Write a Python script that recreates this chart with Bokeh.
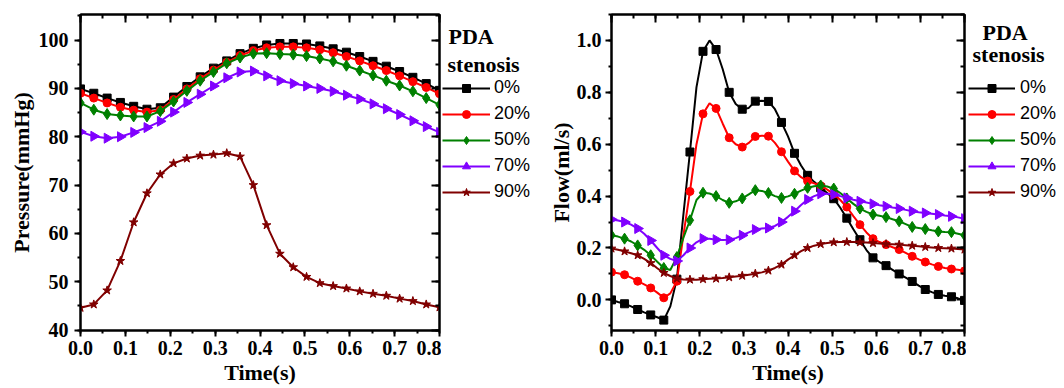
from bokeh.plotting import figure
from bokeh.models import (LinearAxis, Range1d, Legend, LegendItem, Label,
                          SingleIntervalTicker, NumeralTickFormatter, CustomJSTickFormatter)
from bokeh.layouts import row
from bokeh.embed import file_html
from bokeh.resources import INLINE
import math

# ---------------- data ----------------
series_labels = ["0%", "20%", "50%", "70%", "90%"]
series_colors = ["#000000", "#FF0000", "#008000", "#8000FF", "#800000"]
series_markers = ["square", "circle", "diamond", "triangle", "star"]
legend_title = ["PDA", "stenosis"]

# pressure panel (markers at every sample)
time_p = [0.0, 0.0296, 0.0593, 0.0889, 0.1185, 0.1481, 0.1778, 0.2074, 0.2370,
          0.2667, 0.2963, 0.3259, 0.3556, 0.3852, 0.4148, 0.4444, 0.4741, 0.5037,
          0.5333, 0.5630, 0.5926, 0.6222, 0.6519, 0.6815, 0.7111, 0.7407, 0.7704, 0.8]
pressure_0 = [89.9, 89.0, 88.0, 87.1, 86.3, 85.7, 86.0, 88.2, 90.4, 92.4, 94.2, 95.7, 97.2, 98.3,
              99.0, 99.3, 99.3, 99.2, 98.8, 98.2, 97.5, 96.6, 95.6, 94.6, 93.5, 92.3, 91.0, 89.6]
pressure_20 = [89.0, 88.0, 87.0, 86.1, 85.5, 85.1, 85.5, 87.7, 89.9, 92.0, 93.8, 95.4, 96.8, 97.8,
               98.4, 98.6, 98.6, 98.4, 98.0, 97.4, 96.6, 95.7, 94.7, 93.7, 92.6, 91.4, 90.2, 88.9]
pressure_50 = [87.0, 85.6, 84.7, 84.4, 84.2, 84.2, 85.3, 87.3, 89.5, 91.6, 93.4, 95.2, 96.4, 97.2,
               97.3, 97.1, 97.0, 96.7, 96.2, 95.6, 94.7, 93.7, 92.7, 91.6, 90.6, 89.4, 88.0, 86.6]
pressure_70 = [81.0, 80.1, 79.7, 80.0, 80.9, 81.9, 83.2, 85.1, 87.1, 88.8, 90.5, 92.2, 93.4, 93.6,
               92.6, 91.6, 91.0, 90.5, 90.0, 89.4, 88.6, 87.8, 86.8, 85.8, 84.6, 83.3, 82.1, 80.9]
pressure_90 = [44.6, 45.3, 48.2, 54.3, 62.3, 68.3, 72.2, 74.5, 75.5, 76.1, 76.3, 76.6, 75.9, 70.0,
               61.7, 55.8, 53.0, 51.0, 49.7, 49.1, 48.6, 48.0, 47.5, 47.1, 46.5, 46.0, 45.3, 44.7]

# flow panel (markers at every second sample)
time_f = [0.0, 0.0148, 0.0296, 0.0444, 0.0593, 0.0741, 0.0889, 0.1037, 0.1185, 0.1333,
          0.1481, 0.1630, 0.1778, 0.1926, 0.2074, 0.2222, 0.2370, 0.2519, 0.2667, 0.2815,
          0.2963, 0.3111, 0.3259, 0.3407, 0.3556, 0.3704, 0.3852, 0.4000, 0.4148, 0.4296,
          0.4444, 0.4593, 0.4741, 0.4889, 0.5037, 0.5185, 0.5333, 0.5481, 0.5630, 0.5778,
          0.5926, 0.6074, 0.6222, 0.6370, 0.6519, 0.6667, 0.6815, 0.6963, 0.7111, 0.7259,
          0.7407, 0.7556, 0.7704, 0.7852, 0.8]
flow_0 = [0.000, -0.008, -0.015, -0.025, -0.037, -0.048, -0.058, -0.067, -0.078, -0.025,
          0.080, 0.330, 0.570, 0.820, 0.958, 1.000, 0.965, 0.890, 0.800, 0.755,
          0.735, 0.740, 0.766, 0.768, 0.765, 0.735, 0.684, 0.630, 0.565, 0.518,
          0.480, 0.455, 0.432, 0.412, 0.390, 0.355, 0.315, 0.272, 0.232, 0.192,
          0.162, 0.146, 0.132, 0.116, 0.100, 0.086, 0.071, 0.055, 0.040, 0.030,
          0.021, 0.016, 0.012, 0.006, -0.002]
flow_20 = [0.107, 0.103, 0.097, 0.086, 0.072, 0.060, 0.046, 0.028, 0.008, 0.025,
           0.072, 0.250, 0.418, 0.600, 0.717, 0.758, 0.738, 0.680, 0.625, 0.600,
           0.589, 0.605, 0.630, 0.633, 0.631, 0.605, 0.571, 0.533, 0.497, 0.473,
           0.458, 0.449, 0.440, 0.425, 0.408, 0.385, 0.358, 0.323, 0.290, 0.260,
           0.236, 0.223, 0.213, 0.203, 0.194, 0.181, 0.168, 0.156, 0.146, 0.137,
           0.129, 0.123, 0.119, 0.116, 0.112]
flow_50 = [0.249, 0.244, 0.236, 0.225, 0.210, 0.193, 0.172, 0.147, 0.123, 0.115,
           0.165, 0.240, 0.307, 0.385, 0.413, 0.410, 0.400, 0.385, 0.374, 0.380,
           0.391, 0.407, 0.423, 0.420, 0.412, 0.400, 0.393, 0.399, 0.409, 0.421,
           0.432, 0.438, 0.441, 0.437, 0.429, 0.412, 0.391, 0.370, 0.352, 0.339,
           0.329, 0.324, 0.319, 0.311, 0.303, 0.292, 0.281, 0.277, 0.273, 0.268,
           0.264, 0.262, 0.261, 0.255, 0.249]
flow_70 = [0.310, 0.306, 0.300, 0.290, 0.275, 0.255, 0.229, 0.200, 0.172, 0.158,
           0.150, 0.172, 0.200, 0.222, 0.236, 0.236, 0.232, 0.231, 0.232, 0.238,
           0.249, 0.260, 0.271, 0.275, 0.277, 0.285, 0.300, 0.320, 0.342, 0.366,
           0.387, 0.400, 0.409, 0.409, 0.406, 0.400, 0.393, 0.386, 0.380, 0.375,
           0.370, 0.365, 0.361, 0.356, 0.352, 0.347, 0.342, 0.338, 0.335, 0.332,
           0.329, 0.325, 0.322, 0.318, 0.313]
flow_90 = [0.198, 0.193, 0.187, 0.180, 0.172, 0.158, 0.142, 0.122, 0.104, 0.092,
           0.082, 0.079, 0.078, 0.078, 0.080, 0.081, 0.082, 0.084, 0.087, 0.090,
           0.093, 0.097, 0.101, 0.106, 0.113, 0.123, 0.136, 0.155, 0.172, 0.188,
           0.200, 0.209, 0.215, 0.219, 0.222, 0.223, 0.223, 0.223, 0.222, 0.221,
           0.219, 0.217, 0.215, 0.214, 0.213, 0.211, 0.209, 0.207, 0.204, 0.202,
           0.200, 0.199, 0.198, 0.196, 0.194]

pressure_series = [pressure_0, pressure_20, pressure_50, pressure_70, pressure_90]
flow_series = [flow_0, flow_20, flow_50, flow_70, flow_90]

marker_sizes = {"square": 8, "circle": 8, "diamond": 11, "triangle": 10, "star": 9}
marker_angles = {"triangle": -math.pi / 2}

SERIF = "Liberation Serif"
SANS = "Liberation Sans"
H = 388
TOP = 14        # space above the plot frames
BOTTOM = 58     # space below the plot frames


def style_axis(ax, main=True):
    ax.axis_line_width = 2
    ax.axis_line_color = "black"
    ax.major_tick_line_width = 2
    ax.minor_tick_line_width = 2
    ax.major_tick_line_color = "black"
    ax.minor_tick_line_color = "black"
    if main:
        ax.major_tick_out = 6
        ax.major_tick_in = 0
        ax.minor_tick_out = 3
        ax.minor_tick_in = 0
        ax.major_label_text_font = SERIF
        ax.major_label_text_font_style = "bold"
        ax.major_label_text_font_size = "20px"
        ax.major_label_text_color = "black"
        ax.axis_label_text_font = SERIF
        ax.axis_label_text_font_style = "bold"
        ax.axis_label_text_font_size = "22px"
        ax.axis_label_text_color = "black"
    else:
        ax.major_tick_out = 0
        ax.major_tick_in = 8
        ax.minor_tick_out = 0
        ax.minor_tick_in = 4
        ax.formatter = CustomJSTickFormatter(code="return '';")
        ax.major_label_text_font_size = "1px"
        ax.major_label_standoff = 0


def make_panel(width, border_left, y_range, y_interval, y_fmt, y_label,
               y_std, y_lab_std, times, series, step):
    p = figure(width=width, height=H, x_range=Range1d(0, 0.8), y_range=y_range,
               output_backend="svg", toolbar_location=None,
               min_border_left=border_left, min_border_right=2,
               min_border_top=TOP, min_border_bottom=BOTTOM)
    p.grid.visible = False
    p.outline_line_color = "black"
    p.outline_line_width = 2

    p.xaxis.ticker = SingleIntervalTicker(interval=0.1, num_minor_ticks=2)
    p.yaxis.ticker = SingleIntervalTicker(interval=y_interval, num_minor_ticks=2)
    p.xaxis.formatter = NumeralTickFormatter(format="0.0")
    p.yaxis.formatter = NumeralTickFormatter(format=y_fmt)
    p.xaxis.axis_label = "Time(s)"
    p.yaxis.axis_label = y_label
    p.xaxis.major_label_standoff = 4
    p.xaxis.axis_label_standoff = 2
    p.yaxis.major_label_standoff = y_std
    p.yaxis.axis_label_standoff = y_lab_std
    style_axis(p.xaxis[0])
    style_axis(p.yaxis[0])

    top = LinearAxis(ticker=SingleIntervalTicker(interval=0.1, num_minor_ticks=2))
    style_axis(top, main=False)
    p.add_layout(top, "above")
    rgt = LinearAxis(ticker=SingleIntervalTicker(interval=y_interval, num_minor_ticks=2))
    style_axis(rgt, main=False)
    p.add_layout(rgt, "right")

    for col, mk, vals in zip(series_colors, series_markers, series):
        p.line(times, vals, line_color=col, line_width=2)
        p.scatter(times[::step], vals[::step], marker=mk, size=marker_sizes[mk],
                  fill_color=col, line_color=col, angle=marker_angles.get(mk, 0.0))
    return p


def make_legend(width, leg_x, leg_y, glyph_w, standoff, title_spec, times, series):
    # frame of this helper figure spans the same rows as the plot frames;
    # its data units equal pixels, measured from the bottom of the page
    q = figure(width=width, height=H, x_range=Range1d(0, width),
               y_range=Range1d(BOTTOM, H - TOP),
               output_backend="svg", toolbar_location=None,
               min_border_left=0, min_border_right=0,
               min_border_top=TOP, min_border_bottom=BOTTOM)
    q.axis.visible = False
    q.grid.visible = False
    q.outline_line_color = None
    # the legend samples come from the real series, drawn on a range kept out of view
    q.extra_x_ranges = {"offstage": Range1d(10, 11)}
    items = []
    for lab, col, mk, vals in zip(series_labels, series_colors, series_markers, series):
        lr = q.line(times, vals, line_color=col, line_width=2, x_range_name="offstage")
        sr = q.scatter(times, vals, marker=mk, size=marker_sizes[mk], fill_color=col,
                       line_color=col, angle=marker_angles.get(mk, 0.0),
                       x_range_name="offstage")
        items.append(LegendItem(label=lab, renderers=[lr, sr]))
    leg = Legend(items=items, location=(leg_x, leg_y))
    leg.label_text_font = SANS
    leg.label_text_font_size = "18px"
    leg.label_text_color = "black"
    leg.glyph_width = glyph_w
    leg.glyph_height = 20
    leg.label_height = 20
    leg.label_standoff = standoff
    leg.spacing = 5
    leg.padding = 0
    leg.margin = 0
    leg.border_line_color = None
    leg.background_fill_alpha = 0
    q.add_layout(leg, "center")
    for txt, (tx, ty) in zip(legend_title, title_spec):
        q.add_layout(Label(x=tx, y=ty, text=txt, text_font=SERIF, text_font_style="bold",
                           text_font_size="22px", text_color="black",
                           text_align="left", text_baseline="alphabetic"))
    return q


p1 = make_panel(441, 80, Range1d(39.9, 105.3), 10, "0", "Pressure(mmHg)", 6, 2,
                time_p, pressure_series, 1)
l1 = make_legend(104, 1, 128, 48, 4, [(7, 352), (6, 324)], time_p, pressure_series)
p2 = make_panel(421, 61, Range1d(-0.118, 1.1), 0.2, "0.0", "Flow(ml/s)", 4, 0,
                time_f, flow_series, 2)
l2 = make_legend(98, 2, 128, 47, 5, [(16, 356), (6, 334)], time_f, flow_series)

layout = row(p1, l1, p2, l2)
open("out.html", "w").write(file_html(layout, INLINE))
